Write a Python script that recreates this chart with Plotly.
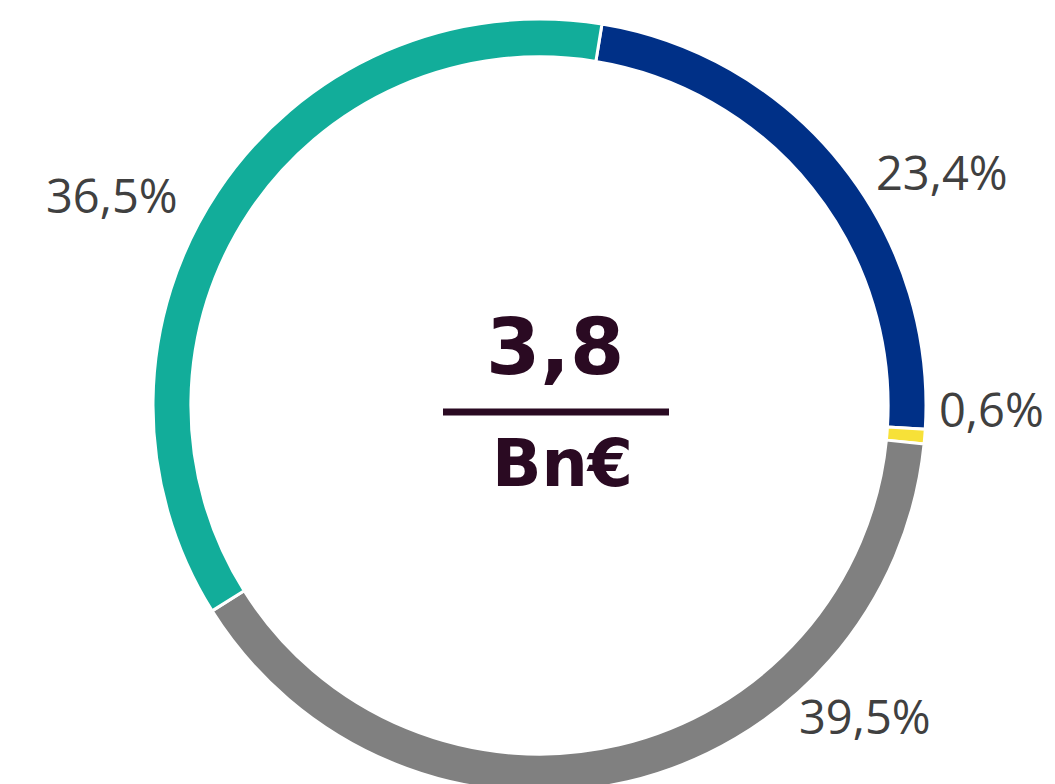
import plotly.graph_objects as go

# Data
categories = ["Segment A", "Segment B", "Segment C", "Segment D"]
shares = [23.4, 0.6, 39.5, 36.5]
share_labels = ["23,4%", "0,6%", "39,5%", "36,5%"]
colors = ["#003087", "#F7E138", "#808080", "#12AD9A"]
total_value = "3,8"
total_unit = "Bn€"

OFF = 8  # page body margin
W, H = 1055, 784
ML, MR, MT, MB = 145, 137, 11, 0
PW = W - ML - MR
PH = H - MT - MB


def px(x):
    return (x - OFF - ML) / PW


def py(y):
    return (H - MB - (y - OFF)) / PH


fig = go.Figure(go.Pie(
    labels=categories,
    values=shares,
    sort=False,
    direction="clockwise",
    rotation=9.3,
    hole=0.902,
    marker=dict(colors=colors, line=dict(color="white", width=3)),
    textinfo="none",
    hoverinfo="label+percent",
    showlegend=False,
))

# label positions (pixel centres)
label_pos = [(942, 172), (991, 409), (865, 716), (112, 195)]
for txt, (lx, ly) in zip(share_labels, label_pos):
    fig.add_annotation(text=txt, x=px(lx), y=py(ly), xref="paper", yref="paper",
                       xanchor="center", yanchor="middle", showarrow=False,
                       font=dict(family="Open Sans", size=47, color="#404040"))

dark = "#2A0A22"
fig.add_annotation(text="<b>%s</b>" % total_value, x=px(555), y=py(347), xref="paper", yref="paper",
                   xanchor="center", yanchor="middle", showarrow=False,
                   font=dict(family="DejaVu Sans", size=78, color=dark))
fig.add_annotation(text="<b>%s</b>" % total_unit, x=px(562), y=py(463), xref="paper", yref="paper",
                   xanchor="center", yanchor="middle", showarrow=False,
                   font=dict(family="DejaVu Sans", size=65, color=dark))
fig.add_shape(type="line", xref="paper", yref="paper",
              x0=px(443), x1=px(669), y0=py(412), y1=py(412),
              line=dict(color=dark, width=7))

fig.update_layout(
    width=W, height=H,
    margin=dict(l=ML, r=MR, t=MT, b=MB),
    paper_bgcolor="white", plot_bgcolor="white",
)

fig.write_html("out.html")
